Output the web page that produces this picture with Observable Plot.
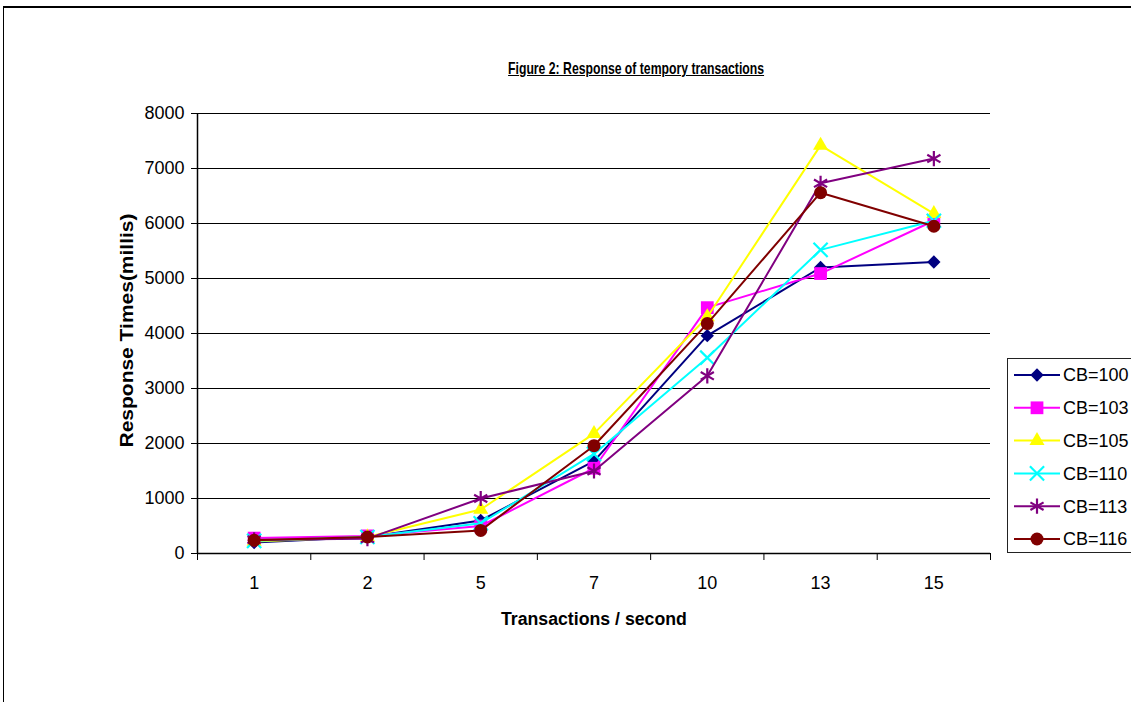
<!DOCTYPE html>
<html>
<head>
<meta charset="utf-8">
<script src="https://cdn.jsdelivr.net/npm/d3@7"></script>
<script src="https://cdn.jsdelivr.net/npm/@observablehq/plot@0.6"></script>
<style>
  html, body { margin: 0; padding: 0; background: #fff; overflow: hidden; }
  #wrap { position: relative; width: 1131px; height: 702px; overflow: hidden; font-family: 'Liberation Sans', Arial, sans-serif; }
  #frame { position: absolute; left: 3px; top: 6px; width: 1200px; height: 800px; border-top: 2px solid #000; border-left: 1px solid #000; }
  #chart { position: absolute; left: 0; top: 0; }
  .lbl { position: absolute; white-space: nowrap; font-weight: bold; color: #000; }
  #legend { position: absolute; left: 1007px; top: 358px; width: 140px; height: 193px; border: 1px solid #222; background: #fff; }
</style>
</head>
<body>
<div id="wrap">
  <div id="frame"></div>
  <div id="chart"></div>
  <div id="title" class="lbl" style="font-size:17px;text-decoration:underline;">Figure 2: Response of tempory transactions</div>
  <div id="xlabel" class="lbl" style="font-size:17.5px;">Transactions / second</div>
  <div id="ylabel" class="lbl" style="font-size:18px;">Response Times(millis)</div>
  <div id="legend"></div>
</div>
<script>
// ---- data ----
const categories = ["1", "2", "5", "7", "10", "13", "15"];
const seriesNames = ["CB=100", "CB=103", "CB=105", "CB=110", "CB=113", "CB=116"];
const cb100 = [200, 300, 600, 1680, 3960, 5200, 5300];
const cb103 = [280, 320, 500, 1550, 4470, 5090, 6050];
const cb105 = [220, 300, 800, 2180, 4300, 7420, 6180];
const cb110 = [230, 300, 550, 1810, 3560, 5520, 6050];
const cb113 = [250, 270, 1000, 1500, 3230, 6730, 7180];
const cb116 = [240, 300, 420, 1960, 4180, 6560, 5950];
const yTicks = [0, 1000, 2000, 3000, 4000, 5000, 6000, 7000, 8000];

const seriesValues = [cb100, cb103, cb105, cb110, cb113, cb116];
const colors = ["#000080", "#FF00FF", "#FFFF00", "#00FFFF", "#800080", "#800000"];
const symbols = ["diamond2", "square", "triangle", "times", "asterisk", "circle"];
const radii = [6.0, 7.2, 5.6, 6.5, 7.2, 6.5];
const filled = [true, true, true, false, false, true];

const rows = seriesNames.flatMap((s, k) => seriesValues[k].map((v, i) => ({series: s, i, value: v})));
const catIndex = categories.map((c, i) => i);
const boundaries = d3.range(categories.length + 1).map(i => i - 0.5);

const marks = [
  Plot.gridY(yTicks, {stroke: "#000", strokeOpacity: 1, strokeWidth: 1}),
  Plot.ruleY([0], {stroke: "#000", strokeWidth: 1.5}),
  Plot.ruleX([-0.5], {stroke: "#000", strokeWidth: 1.5}),
  Plot.axisY({ticks: yTicks, tickSize: 6, tickPadding: 7, tickFormat: d => String(d), fontSize: 18, label: null, stroke: "#000"}),
  Plot.axisX({ticks: boundaries, tickSize: 7, tickFormat: () => "", label: null, stroke: "#000"}),
  Plot.axisX({ticks: catIndex, tickSize: 0, tickPadding: 23, tickFormat: i => categories[i], fontSize: 18, label: null})
];
seriesNames.forEach((s, k) => {
  const data = rows.filter(d => d.series === s);
  marks.push(Plot.line(data, {x: "i", y: "value", stroke: colors[k], strokeWidth: 2}));
  marks.push(Plot.dot(data, filled[k]
    ? {x: "i", y: "value", symbol: () => symbols[k], r: radii[k], fill: colors[k], stroke: "none"}
    : {x: "i", y: "value", symbol: () => symbols[k], r: radii[k], stroke: colors[k], strokeWidth: 2.2, fill: "none"}));
});

const chart = Plot.plot({
  width: 1131,
  height: 702,
  marginLeft: 197,
  marginRight: 141,
  marginTop: 113,
  marginBottom: 149,
  style: {fontFamily: "'Liberation Sans', Arial, sans-serif", fontSize: "18px", background: "transparent", color: "#000"},
  x: {type: "linear", domain: [-0.5, 6.5]},
  y: {domain: [0, 8000]},
  symbol: {type: "identity"},
  marks
});
document.getElementById("chart").appendChild(chart);

// ---- labels placement ----
function place(id, cx, cy, targetW, rotate) {
  const el = document.getElementById(id);
  const w = el.getBoundingClientRect().width;
  const h = el.getBoundingClientRect().height;
  const k = targetW ? targetW / w : 1;
  el.style.left = (cx - w / 2) + "px";
  el.style.top = (cy - h / 2) + "px";
  el.style.transformOrigin = "50% 50%";
  el.style.transform = (rotate ? "rotate(-90deg) " : "") + "scaleX(" + k + ")";
}
place("title", 636, 69, 256, false);
place("xlabel", 594, 619, 186, false);
place("ylabel", 127, 330, 234, true);

// ---- legend ----
const leg = d3.select("#legend").append("svg").attr("width", 140).attr("height", 193);
const symMap = {diamond2: d3.symbolDiamond2, square: d3.symbolSquare, triangle: d3.symbolTriangle,
                times: d3.symbolTimes, asterisk: d3.symbolAsterisk, circle: d3.symbolCircle};
seriesNames.forEach((s, k) => {
  const y = 16 + k * 32.8;
  const g = leg.append("g").attr("transform", `translate(0,${y})`);
  g.append("line").attr("x1", 6).attr("x2", 52).attr("y1", 0).attr("y2", 0)
    .attr("stroke", colors[k]).attr("stroke-width", 2);
  const path = d3.symbol(symMap[symbols[k]], Math.PI * radii[k] * radii[k])();
  const p = g.append("path").attr("d", path).attr("transform", "translate(29,0)");
  if (filled[k]) p.attr("fill", colors[k]);
  else p.attr("fill", "none").attr("stroke", colors[k]).attr("stroke-width", 2.2);
  g.append("text").attr("x", 55).attr("y", 0).attr("dy", "0.35em")
    .attr("font-size", 18).attr("font-family", "'Liberation Sans', Arial, sans-serif")
    .attr("fill", "#000").text(s);
});
</script>
</body>
</html>
